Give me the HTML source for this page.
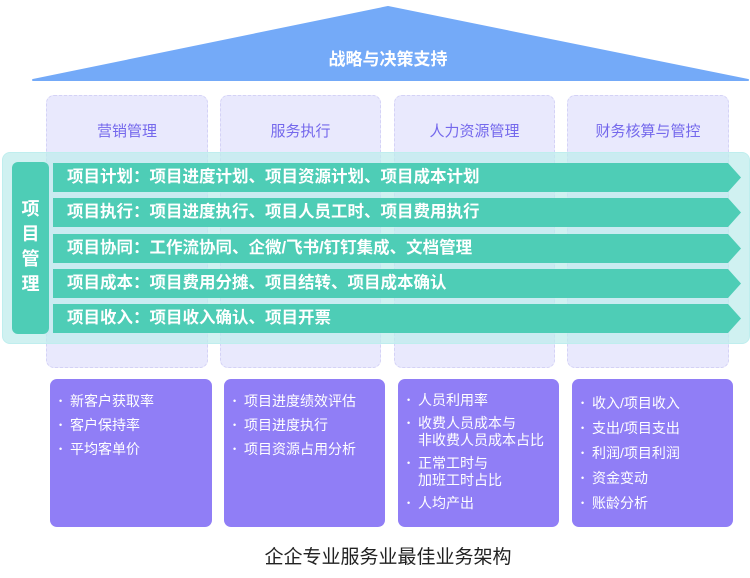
<!DOCTYPE html>
<html><head><meta charset="utf-8"><style>
*{margin:0;padding:0;box-sizing:border-box}
body{width:750px;height:578px;background:#fff;position:relative;overflow:hidden;font-family:"Liberation Sans","Noto Sans CJK SC",sans-serif}
.abs{position:absolute}
.col{position:absolute;top:95px;height:273px;background:#e9e9fd;border:1px dashed #d4d2f6;border-radius:8px}
.colt{position:absolute;top:120px;font-size:15px;color:#7468ec;text-align:center}
.band{position:absolute;left:2px;top:152px;width:748px;height:192px;background:rgba(190,236,236,0.72);border:1px solid #bfeeee;border-radius:8px}
.row{position:absolute;left:53px;height:29px;width:688px;background:#4ecdb6;clip-path:polygon(0 0,675px 0,688px 50%,675px 100%,0 100%);color:#fff;font-weight:bold;font-size:16.5px;line-height:29px;padding-left:14px}
.bot{position:absolute;top:379px;height:148px;background:#907ef6;border-radius:7px;color:#fff;font-size:14px;padding-top:14px}
.bot div{position:relative;padding-left:20px;line-height:17px;margin-bottom:7px}
.bot div:before{content:"•";position:absolute;left:9px;font-size:9px}
</style></head><body>
<svg class="abs" style="left:0;top:0" width="750" height="85"><polygon points="33,80 388,7 748,80" fill="#74aaf8" stroke="#74aaf8" stroke-width="2" stroke-linejoin="round"/></svg>
<div class="abs" style="left:0;width:776px;top:45px;text-align:center;color:#fff;font-weight:bold;font-size:17px">战略与决策支持</div>
<div class="col" style="left:46px;width:162px"></div>
<div class="col" style="left:220px;width:161px"></div>
<div class="col" style="left:394px;width:161px"></div>
<div class="col" style="left:567px;width:162px"></div>
<div class="colt" style="left:46px;width:162px">营销管理</div>
<div class="colt" style="left:220px;width:161px">服务执行</div>
<div class="colt" style="left:394px;width:161px">人力资源管理</div>
<div class="colt" style="left:567px;width:162px">财务核算与管控</div>
<div class="band"></div>
<div class="abs" style="left:12px;top:162px;width:37px;height:172px;background:#4ecdb6;border-radius:6px;color:#fff;font-weight:bold;font-size:18px;line-height:25px;text-align:center;padding-top:35px">项<br>目<br>管<br>理</div>
<div class="row" style="top:163px">项目计划：项目进度计划、项目资源计划、项目成本计划</div>
<div class="row" style="top:198px">项目执行：项目进度执行、项目人员工时、项目费用执行</div>
<div class="row" style="top:234px">项目协同：工作流协同、企微/飞书/钉钉集成、文档管理</div>
<div class="row" style="top:269px">项目成本：项目费用分摊、项目结转、项目成本确认</div>
<div class="row" style="top:304px">项目收入：项目收入确认、项目开票</div>
<div class="bot" style="left:50px;width:162px"><div>新客户获取率</div><div>客户保持率</div><div>平均客单价</div></div>
<div class="bot" style="left:224px;width:161px"><div>项目进度绩效评估</div><div>项目进度执行</div><div>项目资源占用分析</div></div>
<div class="bot" style="left:398px;width:161px;padding-top:13px"><div style="margin-bottom:6px">人员利用率</div><div style="margin-bottom:6px">收费人员成本与<br>非收费人员成本占比</div><div style="margin-bottom:6px">正常工时与<br>加班工时占比</div><div>人均产出</div></div>
<div class="bot" style="left:572px;width:161px;padding-top:16px"><div style="margin-bottom:8px">收入/项目收入</div><div style="margin-bottom:8px">支出/项目支出</div><div style="margin-bottom:8px">利润/项目利润</div><div style="margin-bottom:8px">资金变动</div><div>账龄分析</div></div>
<div class="abs" style="left:0;width:776px;top:542px;text-align:center;font-size:19px;color:#222">企企专业服务业最佳业务架构</div>
</body></html>
